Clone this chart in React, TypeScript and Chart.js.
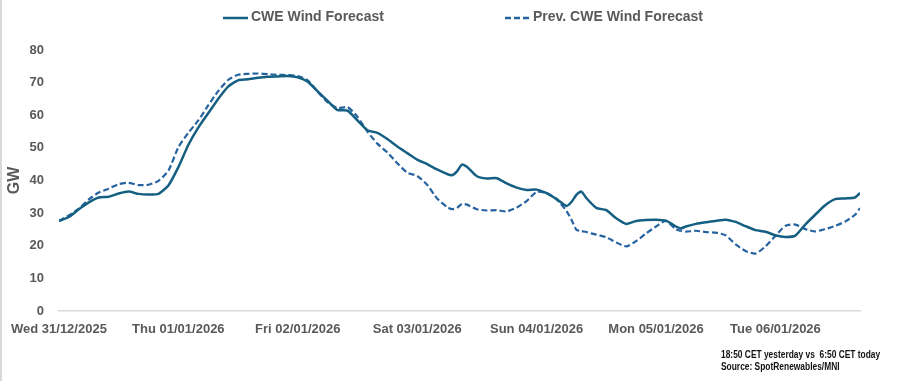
import React, { useEffect, useRef } from "react";
import { Chart, registerables } from "chart.js";

Chart.register(...registerables);

// hours since Wed 31/12/2025 00:00
const hours = [
  0, 2, 4, 6, 8, 10, 12, 14, 16, 18,
  20, 22, 24, 26, 28, 30, 32, 34, 36, 38,
  40, 42, 44, 46, 48, 50, 52, 54, 56, 58,
  60, 62, 64, 66, 68, 70, 72, 74, 76, 78,
  79, 80, 81, 82, 84, 86, 88, 90, 92, 94,
  96, 98, 100, 102, 103, 104, 105, 106, 108, 110,
  112, 114, 116, 118, 120, 122, 124, 125, 126, 128,
  130, 132, 134, 136, 138, 140, 142, 144, 146, 148,
  150, 152, 154, 156, 158, 160, 161,
];

const cweWind = [
  27.6, 28.8, 31.2, 33.3, 34.8, 35.0, 36.0, 36.6, 35.9, 35.7,
  35.9, 38.5, 44.1, 50.9, 56.2, 60.6, 65.0, 68.8, 70.7, 71.0,
  71.5, 71.8, 71.9, 72.0, 71.6, 70.3, 67.3, 64.4, 61.6, 61.4,
  58.4, 55.4, 54.6, 52.7, 50.4, 48.4, 46.4, 45.0, 43.4, 42.0,
  41.6, 42.8, 44.9, 44.2, 41.3, 40.6, 40.7, 39.1, 37.8, 37.1,
  37.2, 36.1, 34.3, 32.2, 33.4, 35.6, 36.6, 34.6, 31.6, 30.9,
  28.4, 26.7, 27.6, 27.9, 28.0, 27.7, 25.9, 25.3, 25.9, 26.7,
  27.2, 27.6, 28.0, 27.3, 26.0, 24.8, 24.3, 23.2, 22.7, 23.1,
  26.5, 29.5, 32.4, 34.3, 34.5, 34.8, 36.2,
];

const prevCweWind = [
  27.6, 29.3, 31.4, 34.2, 36.3, 37.5, 38.9, 39.3, 38.6, 38.7,
  39.9, 43.0, 50.2, 54.6, 58.4, 63.0, 67.4, 70.8, 72.4, 72.7,
  72.8, 72.6, 72.4, 72.3, 72.0, 70.7, 67.2, 64.0, 62.2, 62.5,
  59.5, 55.0, 51.3, 48.6, 45.3, 42.4, 41.4, 38.7, 34.5, 31.9,
  31.2, 31.6, 32.8, 32.6, 31.2, 30.8, 30.9, 30.5, 31.7, 33.7,
  36.5, 36.2, 34.3, 30.7, 28.0, 24.9, 24.5, 24.2, 23.4, 22.6,
  21.0, 19.8, 21.4, 23.8, 25.9, 27.6, 25.0, 24.6, 24.3, 24.6,
  24.2, 24.0, 23.2, 20.4, 18.4, 17.6, 19.8, 23.0, 26.1, 26.5,
  25.1, 24.4, 25.1, 26.1, 27.4, 29.5, 31.5,
];

const dayLabels = [
  "Wed 31/12/2025",
  "Thu 01/01/2026",
  "Fri 02/01/2026",
  "Sat 03/01/2026",
  "Sun 04/01/2026",
  "Mon 05/01/2026",
  "Tue 06/01/2026",
];

const seriesNames = ["CWE Wind Forecast", "Prev. CWE Wind Forecast"];
const yAxisTitle = "GW";
const footnoteLines = ["18:50 CET yesterday vs  6:50 CET today", "Source: SpotRenewables/MNI"];

const FONT = "'Liberation Sans', Arial, sans-serif";
const GREY = "#595959";
const SOLID_COLOR = "#156082";
const DASH_COLOR = "#2563a0";

const legendPlugin = {
  id: "excelLegend",
  afterDraw(chart: any) {
    const ctx = chart.ctx;
    const slots = [
      { x0: 223, x1: 248, tx: 251 },
      { x0: 505, x1: 530, tx: 533 },
    ];
    chart.data.datasets.forEach((ds: any, i: number) => {
      const s = slots[i];
      if (!s) return;
      ctx.save();
      ctx.strokeStyle = ds.borderColor;
      ctx.lineWidth = 2.5;
      ctx.setLineDash(ds.borderDash || []);
      ctx.beginPath();
      ctx.moveTo(s.x0, 18);
      ctx.lineTo(s.x1, 18);
      ctx.stroke();
      ctx.setLineDash([]);
      ctx.fillStyle = GREY;
      ctx.font = `bold 14px ${FONT}`;
      ctx.textAlign = "left";
      ctx.textBaseline = "middle";
      ctx.fillText(ds.label, s.tx, 17);
      ctx.restore();
    });
  },
};

export default function App() {
  const canvasRef = useRef<HTMLCanvasElement | null>(null);

  useEffect(() => {
    if (!canvasRef.current) return;
    const tickFont = { family: FONT, size: 13, weight: "bold" as const };
    const chart = new Chart(canvasRef.current, {
      type: "line",
      data: {
        datasets: [
          {
            label: seriesNames[0],
            data: hours.map((h, i) => ({ x: h, y: cweWind[i] })),
            borderColor: SOLID_COLOR,
            backgroundColor: SOLID_COLOR,
            borderWidth: 2.5,
            pointRadius: 0,
            tension: 0.2,
            fill: false,
          },
          {
            label: seriesNames[1],
            data: hours.map((h, i) => ({ x: h, y: prevCweWind[i] })),
            borderColor: DASH_COLOR,
            backgroundColor: DASH_COLOR,
            borderWidth: 2.2,
            borderDash: [6, 3],
            pointRadius: 0,
            tension: 0.2,
            fill: false,
          },
        ],
      },
      options: {
        animation: false,
        responsive: false,
        layout: { padding: { top: 50, right: 48, bottom: 0, left: 0 } },
        plugins: { legend: { display: false }, tooltip: { enabled: false } },
        scales: {
          x: {
            type: "linear",
            min: hours[0],
            max: hours[hours.length - 1],
            grid: { display: false, drawTicks: false },
            border: { display: true, color: "#d9d9d9", width: 1.5 },
            ticks: {
              autoSkip: false,
              maxRotation: 0,
              padding: 11,
              color: GREY,
              font: tickFont,
              callback: (v: any) => {
                const idx = Math.round(Number(v) / 24);
                return dayLabels[idx] ?? "";
              },
            },
            afterBuildTicks: (scale: any) => {
              scale.ticks = dayLabels.map((_, i) => ({ value: i * 24 }));
            },
            afterFit: (scale: any) => {
              scale.height = 70;
            },
          },
          y: {
            min: 0,
            max: 80,
            grid: { display: false, drawTicks: false },
            border: { display: false },
            ticks: { stepSize: 10, padding: 15, color: GREY, font: tickFont },
            title: {
              display: true,
              text: yAxisTitle,
              color: GREY,
              font: { family: FONT, size: 16, weight: "bold" },
              padding: { top: 3, bottom: 0 },
            },
            afterFit: (scale: any) => {
              scale.width = 57;
            },
          },
        },
      },
      plugins: [legendPlugin],
    });
    return () => chart.destroy();
  }, []);

  return (
    <div
      style={{
        position: "absolute",
        left: 0,
        top: 0,
        width: 908,
        height: 381,
        background: "#fff",
        overflow: "hidden",
      }}
    >
      <canvas ref={canvasRef} width={908} height={381} style={{ display: "block" }} />
      <div
        style={{
          position: "absolute",
          left: 0,
          top: 0,
          width: 2,
          height: 381,
          background: "#d9d9d9",
        }}
      />
      <div
        style={{
          position: "absolute",
          left: 721,
          top: 349,
          fontFamily: FONT,
          fontWeight: "bold",
          fontSize: 10,
          lineHeight: "12px",
          color: "#111",
          whiteSpace: "pre",
          transform: "scaleX(0.84)",
          transformOrigin: "0 0",
        }}
      >
        {footnoteLines.map((t, i) => (
          <div key={i}>{t}</div>
        ))}
      </div>
    </div>
  );
}
